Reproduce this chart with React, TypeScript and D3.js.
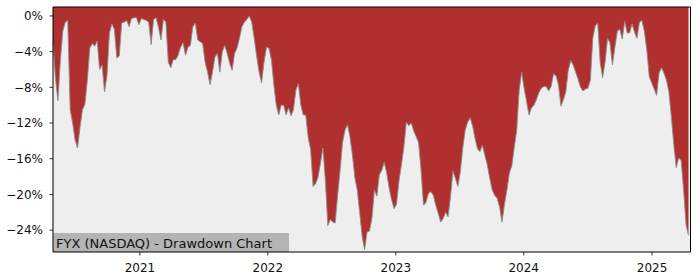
import React from "react";
import * as d3 from "d3";

const startDate = "2020-04-28";
const stepDays = 7;
// weekly drawdown values (%)
const drawdown: number[] = [
  -3.0, -7.0, -9.5, -5.0, -1.7, -0.7, -0.5, -10.5, -12.0, -13.9,
  -14.8, -12.5, -10.5, -9.9, -7.2, -3.6, -3.1, -3.4, -2.8, -6.0,
  -5.5, -8.5, -6.7, -1.9, -0.9, -1.5, -4.7, -4.5, -0.8, -0.7,
  -0.5, -1.2, -0.3, -0.2, -0.2, -1.0, -0.3, -0.4, -0.5, -0.7,
  -3.2, -0.4, -0.2, -1.3, -2.7, -0.4, -0.7, -5.2, -5.8, -4.9,
  -4.9, -4.4, -3.5, -3.0, -4.4, -3.5, -3.3, -1.2, -0.8, -2.7,
  -2.9, -3.1, -5.2, -6.3, -7.7, -6.3, -4.6, -4.2, -6.3, -4.0,
  -3.3, -4.2, -5.3, -6.1, -4.2, -3.6, -2.5, -1.2, -0.7, -0.4,
  0.0, -0.7, -2.5, -4.5, -6.3, -7.5, -5.2, -3.5, -3.6, -4.9,
  -7.7, -10.0, -11.1, -10.0, -10.0, -11.1, -10.3, -11.2, -10.5, -8.3,
  -7.6, -10.0, -11.1, -11.1, -13.6, -15.0, -19.1, -18.8, -18.1, -16.5,
  -14.8, -18.4, -23.5, -22.8, -23.1, -23.2, -20.1, -17.3, -14.2, -12.8,
  -12.2, -13.5, -15.5, -18.1, -19.5, -22.1, -24.7, -26.2, -24.2, -24.1,
  -22.6, -19.5, -20.2, -17.8, -17.3, -16.4, -17.6, -19.3, -20.6, -21.6,
  -21.1, -18.5, -16.7, -14.7, -11.9, -12.3, -12.0, -12.9, -13.5, -14.2,
  -17.3, -21.2, -20.9, -19.9, -19.7, -20.1, -21.2, -22.1, -23.1, -22.7,
  -22.0, -22.5, -20.3, -17.4, -18.2, -19.1, -17.5, -14.8, -12.8, -11.9,
  -11.4, -12.3, -13.7, -14.9, -15.2, -14.5, -15.6, -16.7, -18.2, -19.5,
  -20.1, -20.4, -21.4, -23.1, -21.1, -19.5, -17.6, -16.8, -14.7, -12.8,
  -8.3, -6.3, -8.1, -9.6, -11.1, -10.3, -10.0, -9.4, -8.6, -8.1,
  -7.9, -7.9, -8.4, -7.9, -6.5, -6.7, -7.7, -10.1, -9.4, -8.5,
  -6.1, -5.0, -5.5, -6.3, -7.1, -8.0, -8.4, -8.2, -8.1, -7.2,
  -2.5, -1.1, -0.8, -5.2, -6.9, -5.2, -2.5, -3.0, -5.5, -3.5,
  -1.7, -1.5, -2.6, -0.6, -1.9, -1.9, -0.9, -1.8, -2.5, -0.7,
  -0.5, -1.7, -3.8, -6.8, -7.5, -8.2, -8.9, -6.4, -5.8, -6.4,
  -7.2, -8.5, -11.3, -14.4, -17.0, -15.9, -16.2, -19.5, -23.4, -24.6,
];
const yTicks = [0, -4, -8, -12, -16, -20, -24];
const xTickYears = [2021, 2022, 2023, 2024, 2025];
const title = "FYX (NASDAQ) - Drawdown Chart";

const W = 700, H = 280;
const left = 53, right = 690.5, dataRight = 688.5, top = 7, bottom = 252;

export default function App() {
  const start = d3.timeParse("%Y-%m-%d")(startDate) as Date;
  const data = drawdown.map((v, i) => ({ date: d3.timeDay.offset(start, i * stepDays), v }));
  const x = d3.scaleTime().domain([data[0].date, data[data.length - 1].date]).range([left, dataRight]);
  const y = d3.scaleLinear().domain([-26.45, 1.0]).range([bottom, top]);
  const area = d3.area<{ date: Date; v: number }>()
    .x(d => x(d.date)).y0(y(1.0)).y1(d => y(d.v));
  const line = d3.line<{ date: Date; v: number }>().x(d => x(d.date)).y(d => y(d.v));
  const fmt = (v: number) => (v < 0 ? "\u2212" + Math.abs(v) : String(v)) + "%";
  const font = "DejaVu Sans";
  return (
    <svg width={W} height={H} style={{ position: "absolute", left: 0, top: 0, background: "#fff" }}
      fontFamily={font}>
      <rect x={left} y={top} width={right - left} height={bottom - top} fill="#eeeeee" />
      <path d={area(data) || ""} fill="#b03030" />
      <path d={line(data) || ""} fill="none" stroke="#8c8c8c" strokeWidth={0.9} />
      <rect x={left} y={233} width={236} height={bottom - 233} fill="#b4b4b4" />
      <text x={56} y={247.5} fontSize={13} fill="#111">{title}</text>
      <line x1={left} x2={left} y1={top} y2={bottom} stroke="#000" strokeWidth={1} />
      <line x1={right} x2={right} y1={top} y2={bottom} stroke="#000" strokeWidth={1} />
      <line x1={left} x2={right} y1={top} y2={top} stroke="#000" strokeWidth={1} />
      <line x1={left} x2={right} y1={bottom} y2={bottom} stroke="#000" strokeWidth={1} />
      {yTicks.map(t => (
        <g key={t}>
          <line x1={left - 3.5} x2={left} y1={y(t)} y2={y(t)} stroke="#000" strokeWidth={0.8} />
          <text x={left - 10} y={y(t)} dy="0.35em" textAnchor="end" fontSize={12} fill="#111">{fmt(t)}</text>
        </g>
      ))}
      {xTickYears.map(yr => {
        const px = x(new Date(yr, 0, 1));
        return (
          <g key={yr}>
            <line x1={px} x2={px} y1={bottom} y2={bottom + 3.5} stroke="#000" strokeWidth={0.8} />
            <text x={px} y={272} textAnchor="middle" fontSize={12} fill="#111">{yr}</text>
          </g>
        );
      })}
    </svg>
  );
}
